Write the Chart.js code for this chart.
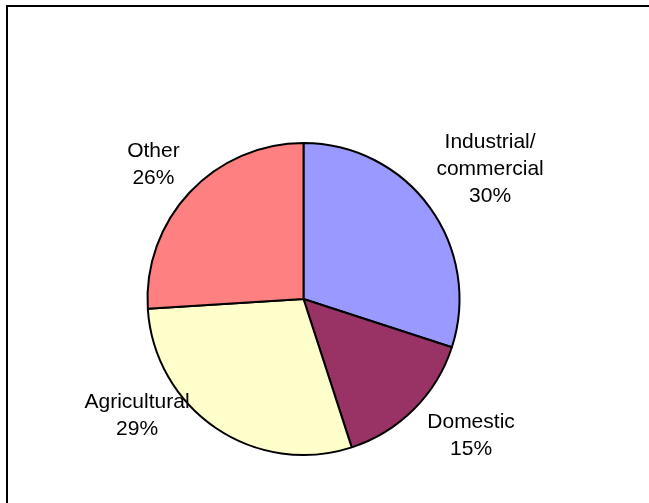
<!DOCTYPE html>
<html>
<head>
<meta charset="utf-8">
<script src="https://cdn.jsdelivr.net/npm/chart.js@4/dist/chart.umd.min.js"></script>
<style>
  html, body { margin: 0; padding: 0; background: #fff; }
  #wrap { position: relative; width: 649px; height: 503px; }
</style>
</head>
<body>
<div id="wrap"><canvas id="chart"></canvas></div>
<script>
// Water use by sector (percent of total)
const categories = ['Industrial/commercial', 'Domestic', 'Agricultural', 'Other'];
const labelLines = [['Industrial/', 'commercial'], ['Domestic'], ['Agricultural'], ['Other']];
const shares = [30, 15, 29, 26];
const sliceColors = ['#9999FF', '#993366', '#FFFFCC', '#FF8080'];

// Where each label block sits, in units of the pie radius from its centre
const labelOffsets = [[1.196, -0.843], [1.074, 0.864], [-1.067, 0.737], [-0.962, -0.873]];

const FONT = '21px "Liberation Sans", Arial, sans-serif';
const LINE_H = 27;

// Open frame along the top and left edges
const framePlugin = {
  id: 'frame',
  beforeDraw(chart) {
    const ctx = chart.ctx;
    ctx.save();
    ctx.strokeStyle = '#000';
    ctx.lineWidth = 2;
    ctx.strokeRect(7, 6, chart.width + 20, chart.height + 20);
    ctx.restore();
  }
};

// Category name and percentage beside each slice
const sliceLabels = {
  id: 'sliceLabels',
  afterDatasetsDraw(chart) {
    const ctx = chart.ctx;
    const meta = chart.getDatasetMeta(0);
    ctx.save();
    ctx.font = FONT;
    ctx.fillStyle = '#000';
    ctx.textAlign = 'center';
    ctx.textBaseline = 'alphabetic';
    meta.data.forEach((arc, i) => {
      const r = arc.outerRadius;
      const cx = arc.x + labelOffsets[i][0] * r;
      const cy = arc.y + labelOffsets[i][1] * r;
      const lines = labelLines[i].concat([shares[i] + '%']);
      lines.forEach((t, j) => {
        const y = cy + (j - (lines.length - 1) / 2) * LINE_H;
        ctx.fillText(t, cx, y + 7.5);
      });
    });
    ctx.restore();
  }
};

new Chart(document.getElementById('chart'), {
  type: 'pie',
  data: {
    labels: categories,
    datasets: [{
      data: shares,
      backgroundColor: sliceColors,
      borderColor: '#000',
      borderWidth: 2,
      hoverOffset: 0,
      offset: 0
    }]
  },
  options: {
    responsive: true,
    maintainAspectRatio: false,
    devicePixelRatio: 1,
    animation: false,
    radius: 156,
    rotation: 0,
    layout: { padding: { left: 100, right: 142, top: 120, bottom: 25 } },
    plugins: {
      legend: { display: false },
      tooltip: { enabled: false }
    },
    events: []
  },
  plugins: [framePlugin, sliceLabels]
});
</script>
</body>
</html>
